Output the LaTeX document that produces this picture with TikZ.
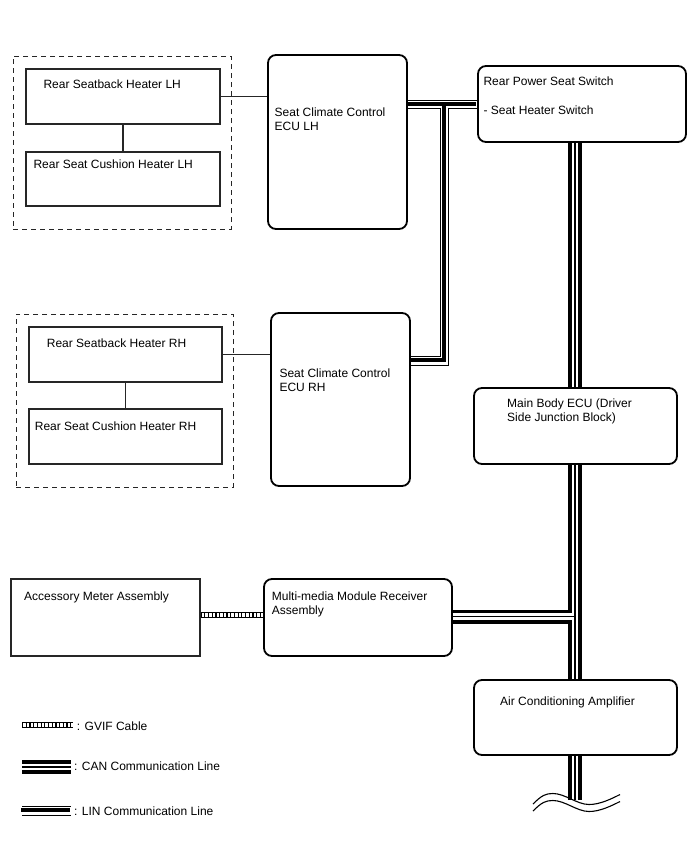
\documentclass[tikz,border=0pt]{standalone}
\usepackage{fontspec}
\setmainfont{Liberation Sans}
\usetikzlibrary{fit,calc}
\begin{document}
\begin{tikzpicture}[x=1pt,y=-1pt,
  font=\fontsize{12}{14}\selectfont,
  rbox/.style={draw=black, line width=1.8pt, rounded corners=8pt, inner sep=0pt},
  sbox/.style={draw=black!85, line width=1.1pt, inner sep=0pt},
  dbox/.style={draw=black!85, line width=1pt, dash pattern=on 5pt off 4pt, inner sep=0pt},
  txt/.style={anchor=base west, inner sep=0pt, text=black},
  wire/.style={draw=black!85, line width=1.1pt},
  canA/.style={line width=14pt, draw=black},
  canB/.style={line width=6.5pt, draw=white},
  canC/.style={line width=1.5pt, draw=black},
  linA/.style={line width=9.5pt, draw=black},
  linB/.style={line width=7.5pt, draw=white},
  linC/.style={line width=4pt, draw=black, transform canvas={xshift=-0.75pt, yshift=0.75pt}},
  gvA/.style={line width=6pt, draw=black},
  gvB/.style={line width=4pt, draw=white},
  gvC/.style={line width=4pt, draw=black, dash pattern=on 1.2pt off 2.5pt},
  wave/.style={draw=black, line width=1.1pt},
]
\fill[white] (0,0) rectangle (688,852);
\useasboundingbox (0,0) rectangle (688,852);

% ---------- boxes ----------
\node[dbox, fit={(13,56)(231,229)}] (dashLH) {};
\node[sbox, fit={(26,69)(220,124)}] (sbLH) {};
\node[sbox, fit={(26,152)(220,206)}] (scLH) {};
\node[rbox, fit={(268,55)(407,229)}] (ecuLH) {};

\node[dbox, fit={(16,314)(233,487)}] (dashRH) {};
\node[sbox, fit={(29,327)(222,382)}] (sbRH) {};
\node[sbox, fit={(29,409)(222,464)}] (scRH) {};
\node[rbox, fit={(271,313)(410,486)}] (ecuRH) {};

\node[rbox, fit={(478,66)(686,142)}] (sw) {};
\node[rbox, fit={(474,388)(677,464)}] (mb) {};
\node[rbox, fit={(474,680)(677,755)}] (ac) {};

\node[sbox, fit={(11,579)(200,656)}] (acc) {};
\node[rbox, fit={(264,579)(452,656)}] (mm) {};

% ---------- texts ----------
\node[txt] (t1) at (43.3,88) {Rear Seatback Heater LH};
\node[txt] (t2) at (33.3,168) {Rear Seat Cushion Heater LH};
\node[txt] (t3) at (274.5,116) {Seat Climate Control};
\node[txt] (t4) at (274.5,130) {ECU LH};
\node[txt] (t5) at (46.7,347.5) {Rear Seatback Heater RH};
\node[txt] (t6) at (34.7,430) {Rear Seat Cushion Heater RH};
\node[txt] (t7) at (279.3,377) {Seat Climate Control};
\node[txt] (t8) at (279.3,391) {ECU RH};
\node[txt] (t9) at (483.3,85) {Rear Power Seat Switch};
\node[txt] (t10) at (483.3,114) {- Seat Heater Switch};
\node[txt] (t11) at (507,407) {Main Body ECU (Driver};
\node[txt] (t12) at (507,421) {Side Junction Block)};
\node[txt] (t13) at (500,705) {Air Conditioning Amplifier};
\node[txt] (t14) at (24,600.5) {Accessory Meter Assembly};
\node[txt] (t15) at (271.7,600) {Multi-media Module Receiver};
\node[txt] (t16) at (271.7,614) {Assembly};

% ---------- thin wires ----------
\draw[wire] (sbLH.east) -- (sbLH.east -| ecuLH.west);
\draw[wire] (sbLH.south) -- (scLH.north);
\draw[wire] (sbRH.east) -- (sbRH.east -| ecuRH.west);
\draw[wire] (sbRH.south) -- (scRH.north);

% ---------- GVIF ----------
\def\gvpath{([yshift=2.5pt]acc.east) -- ([yshift=2.5pt]acc.east -| mm.west)}
\draw[gvA] \gvpath;
\draw[gvB] \gvpath;
\draw[gvC] \gvpath;

% ---------- CAN ----------
\coordinate (busx) at (575,0);
\coordinate (busend) at (575,800);
\coordinate (hy) at (0,616.5);
\def\canpath{(sw.south -| busx) -- (mb.north -| busx)
  (mb.south -| busx) -- (ac.north -| busx)
  (ac.south -| busx) -- (busend)
  (mm.east |- hy) -- (busx |- hy)}
\draw[canA] \canpath;
\draw[canB] \canpath;
\draw[canC] \canpath;

% ---------- LIN ----------
\coordinate (lj) at (444.3,104.7);
\coordinate (lc) at (444.3,361);
\def\linpath{(ecuLH.east |- lj) -- (sw.west |- lj)
  (lj) -- (lc) -- (ecuRH.east |- lc)}
\draw[linA] \linpath;
\draw[linB] \linpath;
\draw[linC] \linpath;

% ---------- break waves ----------
\draw[wave] (533,804) .. controls (542,795) and (546,793.5) .. (553,793.5)
  .. controls (565,793.5) and (577,804.5) .. (589,804.5)
  .. controls (600,804.5) and (611,799) .. (620,794.5);
\draw[wave] (533,811) .. controls (542,802) and (546,800.5) .. (553,800.5)
  .. controls (565,800.5) and (577,811.5) .. (589,811.5)
  .. controls (600,811.5) and (611,806) .. (620,801.5);

% ---------- legend ----------
\coordinate (g1) at (22,725);
\coordinate (g2) at (73,725);
\draw[gvA] (g1) -- (g2);
\draw[gvB] (g1) -- (g2);
\draw[gvC] (g1) -- (g2);
\node[txt] (l1) at (76.7,730) {: GVIF Cable};

\coordinate (c1) at (22,767);
\coordinate (c2) at (71,767);
\draw[canA] (c1) -- (c2);
\draw[canB] (c1) -- (c2);
\draw[canC] (c1) -- (c2);
\node[txt] (l2) at (74,770) {: CAN Communication Line};

\coordinate (n1) at (22,811);
\coordinate (n2) at (71,811);
\draw[linA] (n1) -- (n2);
\draw[linB] (n1) -- (n2);
\draw[linC] (n1) -- (n2);
\node[txt] (l3) at (74,815) {: LIN Communication Line};
\end{tikzpicture}
\end{document}
